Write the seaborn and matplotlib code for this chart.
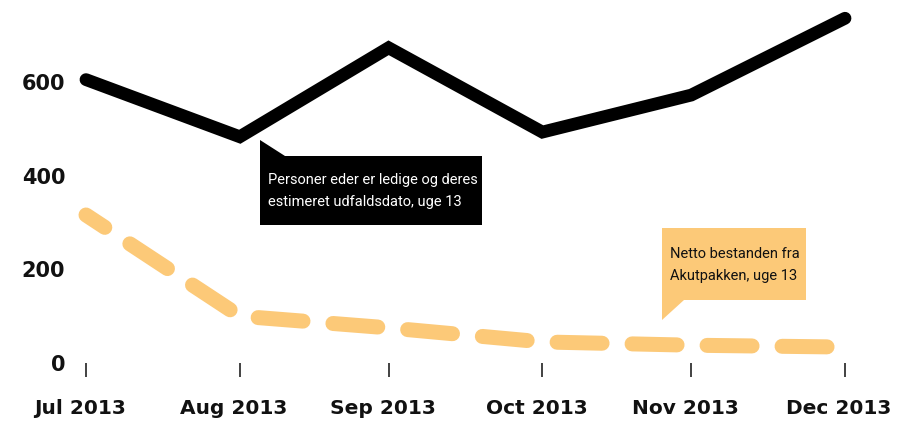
"""Ledige personer vs. Akutpakken, jul-dec 2013."""

import matplotlib

matplotlib.use("Agg")
import matplotlib.pyplot as plt
import pandas as pd
import seaborn as sns
from matplotlib.patches import Polygon
from matplotlib.transforms import Affine2D, ScaledTranslation

months = ["2013-07-31", "2013-08-31", "2013-09-30", "2013-10-31", "2013-11-30", "2013-12-31"]
tick_labels = ["Jul 2013", "Aug 2013", "Sep 2013", "Oct 2013", "Nov 2013", "Dec 2013"]
ledige = [605, 483, 673, 493, 572, 736]
akutpakken = [316, 100, 75, 45, 38, 34]
y_ticks = [0, 200, 400, 600]

BLACK = "#000000"
YELLOW = "#fcc978"
W, H = 897, 421

sns.set_theme(style="white")
plt.rcParams["font.family"] = ["DejaVu Sans"]

df = pd.DataFrame({"dato": pd.to_datetime(months), "ledige": ledige, "akut": akutpakken})

fig = plt.figure(figsize=(W / 100, H / 100), dpi=100)
ax = fig.add_axes([86 / W, (H - 363) / H, (845 - 86) / W, 363 / H])

sns.lineplot(data=df, x="dato", y="ledige", ax=ax, color=BLACK, lw=9.2,
             solid_capstyle="round", solid_joinstyle="miter", clip_on=False)
sns.lineplot(data=df, x="dato", y="akut", ax=ax, color=YELLOW, lw=10.8,
             linestyle=(1.5, (3, 2)), dash_capstyle="round", dash_joinstyle="round",
             clip_on=False)

ax.set_xlim(df["dato"].iloc[0], df["dato"].iloc[-1])
ax.set_ylim(0, 775)
ax.set_xticks(df["dato"])
ax.set_xticklabels(tick_labels)
ax.set_yticks(y_ticks)
ax.set_xlabel("")
ax.set_ylabel("")
for s in ax.spines.values():
    s.set_visible(False)
ax.tick_params(axis="x", bottom=True, length=10, width=1.2, color="#222222",
               pad=16, labelsize=14.5)
ax.tick_params(axis="y", left=False, length=0, pad=15, labelsize=15)
for lab in ax.get_yticklabels():
    lab.set_fontweight("bold")
    lab.set_color("#111111")
shift = ScaledTranslation(-6 / 100, 0, fig.dpi_scale_trans)
for lab in ax.get_xticklabels():
    lab.set_fontweight("bold")
    lab.set_color("#111111")
    lab.set_transform(lab.get_transform() + shift)

# callouts, placed in pixel coordinates from top-left
px = Affine2D().scale(1, -1).translate(0, H)
fig.patches.append(Polygon([(260, 140), (285, 156), (482, 156), (482, 225), (260, 225)],
                           closed=True, facecolor=BLACK, edgecolor="none",
                           transform=px, figure=fig))
fig.patches.append(Polygon([(662, 228), (806, 228), (806, 300), (684, 300), (662, 320)],
                           closed=True, facecolor=YELLOW, edgecolor="none",
                           transform=px, figure=fig))

narrow = ["Roboto", "DejaVu Sans"]
fig.text(268 / W, 1 - 191 / H, "Personer eder er ledige og deres\nestimeret udfaldsdato, uge 13",
         color="white", fontsize=10.5, family=narrow, va="center", ha="left", linespacing=1.8)
fig.text(670 / W, 1 - 265 / H, "Netto bestanden fra\nAkutpakken, uge 13",
         color="#111111", fontsize=10.5, family=narrow, va="center", ha="left", linespacing=1.8)

fig.savefig("out.png", dpi=100)
